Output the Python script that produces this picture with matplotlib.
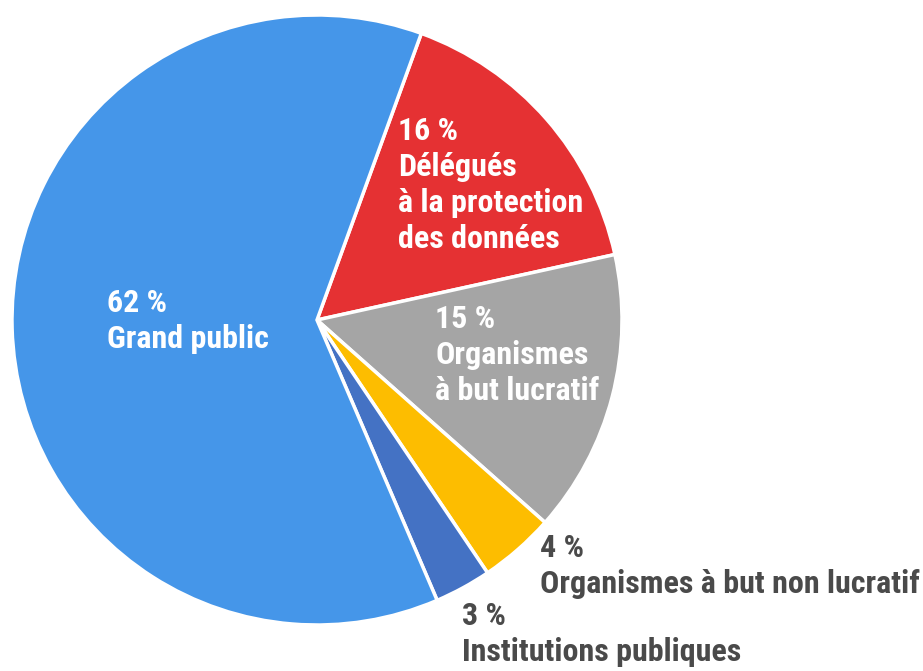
import matplotlib.pyplot as plt

# Data
labels = ["Délégués\nà la protection\ndes données", "Organismes\nà but lucratif",
          "Organismes à but non lucratif", "Institutions publiques", "Grand public"]
shares = [16, 15, 4, 3, 62]
colors = ["#E53133", "#A5A5A5", "#FDBD00", "#4472C4", "#4596E9"]
text_colors = ["white", "white", "#4A4A4A", "#4A4A4A", "white"]
label_pos = [(0.266, 0.443), (0.387, -0.115), (0.731, -0.807), (0.475, -1.03), (-0.689, -0.003)]

plt.rcParams["font.family"] = ["Roboto Condensed", "DejaVu Sans"]

fig = plt.figure(figsize=(9.23, 6.71), dpi=100)
ax = fig.add_axes([12 / 923, 46 / 671, 610 / 923, 610 / 671])
ax.pie(shares, colors=colors, startangle=70, counterclock=False, radius=1,
       wedgeprops=dict(edgecolor="white", linewidth=2.5))
ax.set_xlim(-1, 1)
ax.set_ylim(-1, 1)
ax.set_aspect("auto")
ax.axis("off")

for lab, val, c, (x, y) in zip(labels, shares, text_colors, label_pos):
    ax.text(x, y, f"{val} %\n{lab}", color=c, fontsize=23, fontweight=900,
            fontstretch="condensed", ha="left", va="center", linespacing=1.25)

fig.savefig("out.png", dpi=100)
